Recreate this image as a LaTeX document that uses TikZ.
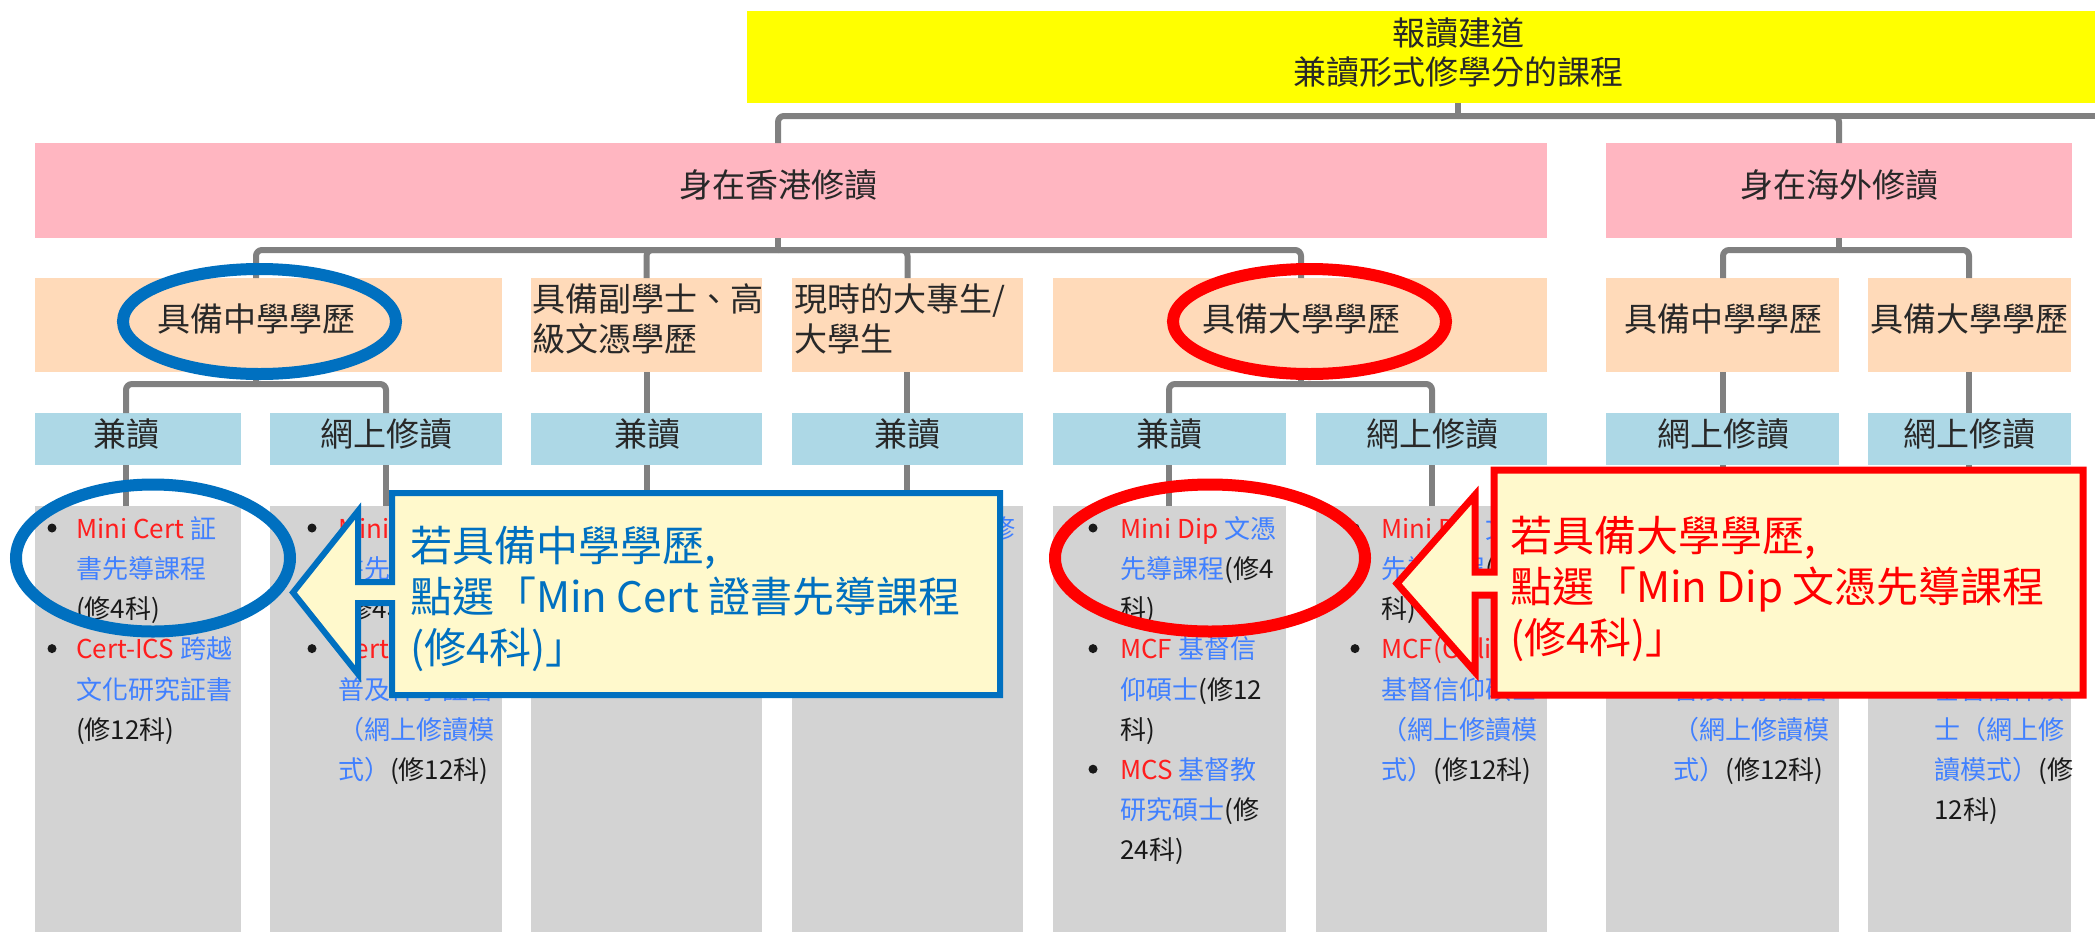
\documentclass[tikz,border=0pt]{standalone}
\usepackage{fontspec}
\setmainfont{Noto Sans CJK TC}
\usetikzlibrary{fit}
\definecolor{ylw}{RGB}{255,255,0}
\definecolor{pnk}{RGB}{255,182,193}
\definecolor{org}{RGB}{255,218,185}
\definecolor{lbl}{RGB}{173,216,230}
\definecolor{gry}{RGB}{211,211,211}
\definecolor{lineg}{RGB}{128,128,128}
\definecolor{hdrc}{RGB}{40,40,40}
\definecolor{cblue}{RGB}{0,112,192}
\definecolor{cred}{RGB}{255,0,0}
\definecolor{cfill}{RGB}{255,249,204}
\definecolor{tred}{RGB}{255,30,30}
\definecolor{tblue}{RGB}{64,128,255}
\definecolor{tblack}{RGB}{25,25,25}
\newcommand\cR[1]{\textcolor{tred}{#1}}
\newcommand\cB[1]{\textcolor{tblue}{#1}}
\newcommand\cK[1]{\textcolor{tblack}{#1}}
\newcommand\gstrut{\rule{0pt}{30pt}}
\newcommand\hstrut{\rule{0pt}{38pt}}
\newcommand\cstrut{\rule{0pt}{45pt}}
\begin{document}
\begin{tikzpicture}[x=1pt,y=-1pt,
  bx/.style={inner sep=0pt,outer sep=0pt,draw=none},
  conn/.style={draw=lineg,line width=6pt,rounded corners=6pt},
  hdr/.style={inner sep=0pt,text=hdrc,font=\fontsize{33}{40}\selectfont},
  hdrl/.style={inner sep=0pt,text=hdrc,font=\fontsize{33}{40}\selectfont,anchor=north west,align=left},
  gtx/.style={anchor=north west,inner sep=0pt,align=left,font=\fontsize{26}{40.2}\selectfont},
  bul/.style={circle,fill=tblack,inner sep=0pt,minimum size=9pt},
  ctx/.style={anchor=north west,inner sep=0pt,align=left,font=\fontsize{42}{51}\selectfont},
]
\useasboundingbox (0,0) rectangle (2095,932);
\fill[white] (0,0) rectangle (2095,932);

% ---------- boxes ----------
\node[bx,fill=ylw,fit={(747,11) (2095,103)}] (yb) {};
\node[bx,fill=pnk,fit={(35,143) (1547,238)}] (p1b) {};
\node[bx,fill=pnk,fit={(1606,143) (2072,238)}] (p2b) {};

\node[bx,fill=org,fit={(35,278) (502,372)}] (o1b) {};
\node[bx,fill=org,fit={(531,278) (762,372)}] (o2b) {};
\node[bx,fill=org,fit={(792,278) (1023,372)}] (o3b) {};
\node[bx,fill=org,fit={(1053,278) (1547,372)}] (o4b) {};
\node[bx,fill=org,fit={(1606,278) (1839,372)}] (o5b) {};
\node[bx,fill=org,fit={(1868,278) (2071,372)}] (o6b) {};

\node[bx,fill=lbl,fit={(35,413) (241,465)}] (b1b) {};
\node[bx,fill=lbl,fit={(270,413) (502,465)}] (b2b) {};
\node[bx,fill=lbl,fit={(531,413) (762,465)}] (b3b) {};
\node[bx,fill=lbl,fit={(792,413) (1023,465)}] (b4b) {};
\node[bx,fill=lbl,fit={(1053,413) (1286,465)}] (b5b) {};
\node[bx,fill=lbl,fit={(1316,413) (1547,465)}] (b6b) {};
\node[bx,fill=lbl,fit={(1606,413) (1839,465)}] (b7b) {};
\node[bx,fill=lbl,fit={(1868,413) (2071,465)}] (b8b) {};

\node[bx,fill=gry,fit={(35,506) (241,932)}] (g1b) {};
\node[bx,fill=gry,fit={(270,506) (502,932)}] (g2b) {};
\node[bx,fill=gry,fit={(531,506) (762,932)}] (g3b) {};
\node[bx,fill=gry,fit={(792,506) (1023,932)}] (g4b) {};
\node[bx,fill=gry,fit={(1053,506) (1286,932)}] (g5b) {};
\node[bx,fill=gry,fit={(1316,506) (1547,932)}] (g6b) {};
\node[bx,fill=gry,fit={(1606,506) (1839,932)}] (g7b) {};
\node[bx,fill=gry,fit={(1868,506) (2071,932)}] (g8b) {};

% ---------- header texts ----------
\node[hdr,align=center,font=\fontsize{33}{39}\selectfont] (yt) at (1458,53) {報讀建道\\兼讀形式修學分的課程};
\node[hdr] (p1t) at (778,185) {身在香港修讀};
\node[hdr] (p2t) at (1839,185) {身在海外修讀};

\node[hdr] (o1t) at (256,319) {具備中學學歷};
\node[hdrl] (o2t) at (532,273.5) {\hstrut 具備副學士、高\\級文憑學歷};
\node[hdrl] (o3t) at (794,273.5) {\hstrut 現時的大專生/\\大學生};
\node[hdr] (o4t) at (1301,319) {具備大學學歷};
\node[hdr] (o5t) at (1723,319) {具備中學學歷};
\node[hdr] (o6t) at (1969,319) {具備大學學歷};

\node[hdr] (b1t) at (126,434) {兼讀};
\node[hdr] (b2t) at (386,434) {網上修讀};
\node[hdr] (b3t) at (647,434) {兼讀};
\node[hdr] (b4t) at (907,434) {兼讀};
\node[hdr] (b5t) at (1169,434) {兼讀};
\node[hdr] (b6t) at (1432,434) {網上修讀};
\node[hdr] (b7t) at (1723,434) {網上修讀};
\node[hdr] (b8t) at (1969,434) {網上修讀};

% ---------- connectors ----------
\coordinate (j0) at (1458,116);
\coordinate (jend) at (2095,116);
\draw[conn] (yt |- yb.south) -- (j0);
\draw[conn] (j0) -| (p1t |- p1b.north);
\draw[conn] (j0) -| (p2t |- p2b.north);
\draw[conn] (j0) -- (jend);

\coordinate (j1) at (778,250);
\draw[conn] (p1t |- p1b.south) -- (j1);
\draw[conn] (j1) -| (o1t |- o1b.north);
\draw[conn] (j1) -| (o2b.north);
\draw[conn] (j1) -| (o3b.north);
\draw[conn] (j1) -| (o4t |- o4b.north);

\coordinate (j2) at (1839,250);
\draw[conn] (p2t |- p2b.south) -- (j2);
\draw[conn] (j2) -| (o5t |- o5b.north);
\draw[conn] (j2) -| (o6t |- o6b.north);

\coordinate (j3) at (256,384);
\draw[conn] (o1t |- o1b.south) -- (j3);
\draw[conn] (j3) -| (b1t |- b1b.north);
\draw[conn] (j3) -| (b2t |- b2b.north);
\draw[conn] (b3t |- o2b.south) -- (b3t |- b3b.north);
\draw[conn] (b4t |- o3b.south) -- (b4t |- b4b.north);

\coordinate (j4) at (1301,384);
\draw[conn] (o4t |- o4b.south) -- (j4);
\draw[conn] (j4) -| (b5t |- b5b.north);
\draw[conn] (j4) -| (b6t |- b6b.north);
\draw[conn] (o5t |- o5b.south) -- (b7t |- b7b.north);
\draw[conn] (o6t |- o6b.south) -- (b8t |- b8b.north);

\foreach \k in {1,...,8}{
  \draw[conn] (b\k t |- b\k b.south) -- (b\k t |- g\k b.north);
}

% ---------- gray column texts ----------
\node[gtx] (g1t) at (76,508) {\gstrut\cR{Mini Cert} \cB{証}\\
\cB{書先導課程}\\
\cK{(修4科)}\\
\cR{Cert-ICS} \cB{跨越}\\
\cB{文化研究証書}\\
\cK{(修12科)}};
\node[bul] (g1u1) at (52,528) {};
\node[bul] (g1u2) at (52,648.6) {};

\node[gtx] (g2t) at (338,508) {\gstrut\cR{Mini Cert} \cB{証}\\
\cB{書先導課程}\\
\cK{(修4科)}\\
\cR{Cert(Online)}\\
\cB{普及神學証書}\\
\cB{（網上修讀模}\\
\cB{式）}\cK{(修12科)}};
\node[bul] (g2u1) at (312,528) {};
\node[bul] (g2u2) at (312,648.6) {};

\node[gtx] (g4t) at (989,508) {\gstrut\cB{修}};

\node[gtx] (g5t) at (1120,508) {\gstrut\cR{Mini Dip} \cB{文憑}\\
\cB{先導課程}\cK{(修4}\\
\cK{科)}\\
\cR{MCF} \cB{基督信}\\
\cB{仰碩士}\cK{(修12}\\
\cK{科)}\\
\cR{MCS} \cB{基督教}\\
\cB{研究碩士}\cK{(修}\\
\cK{24科)}};
\node[bul] (g5u1) at (1093,528) {};
\node[bul] (g5u2) at (1093,648.6) {};
\node[bul] (g5u3) at (1093,769.2) {};

\node[gtx] (g6t) at (1381,508) {\gstrut\cR{Mini Dip} \cB{文憑}\\
\cB{先導課程}\cK{(修4}\\
\cK{科)}\\
\cR{MCF(Online)}\\
\cB{基督信仰碩士}\\
\cB{（網上修讀模}\\
\cB{式）}\cK{(修12科)}};
\node[bul] (g6u1) at (1355,528) {};
\node[bul] (g6u2) at (1355,648.6) {};

\node[gtx] (g7t) at (1673,668.8) {\gstrut\cB{普及神學証書}\\
\cB{（網上修讀模}\\
\cB{式）}\cK{(修12科)}};

\node[gtx] (g8t) at (1934,668.8) {\gstrut\cB{基督信仰碩}\\
\cB{士（網上修}\\
\cB{讀模式）}\cK{(修}\\
\cK{12科)}};

% ---------- highlight ellipses ----------
\draw[cblue,line width=12pt] (259.5,321.5) ellipse [x radius=136.5, y radius=52.5];
\draw[cblue,line width=12pt] (153,558) ellipse [x radius=137, y radius=73.5];
\draw[cred,line width=12pt] (1309.5,321.5) ellipse [x radius=136.5, y radius=52.5];
\draw[cred,line width=12pt] (1210,558) ellipse [x radius=155, y radius=73.5];

% ---------- callouts ----------
\draw[cblue,line width=6pt,fill=cfill,line join=miter]
  (392,493) -- (1000,493) -- (1000,695) -- (392,695) -- (392,603) -- (358,603)
  -- (358,674) -- (293,592.5) -- (358,511) -- (358,582) -- (392,582) -- cycle;
\node[ctx,text=cblue] (c1t) at (410,516) {\cstrut 若具備中學學歷,\\點選「Min Cert 證書先導課程\\(修4科)」};

\draw[cred,line width=7pt,fill=cfill,line join=miter]
  (1494,470) -- (2083,470) -- (2083,695) -- (1494,695) -- (1494,595) -- (1475,595)
  -- (1475,672) -- (1397,583.5) -- (1475,495) -- (1475,572) -- (1494,572) -- cycle;
\node[ctx,text=cred] (c2t) at (1510,506) {\cstrut 若具備大學學歷,\\點選「Min Dip 文憑先導課程\\(修4科)」};
\end{tikzpicture}
\end{document}
